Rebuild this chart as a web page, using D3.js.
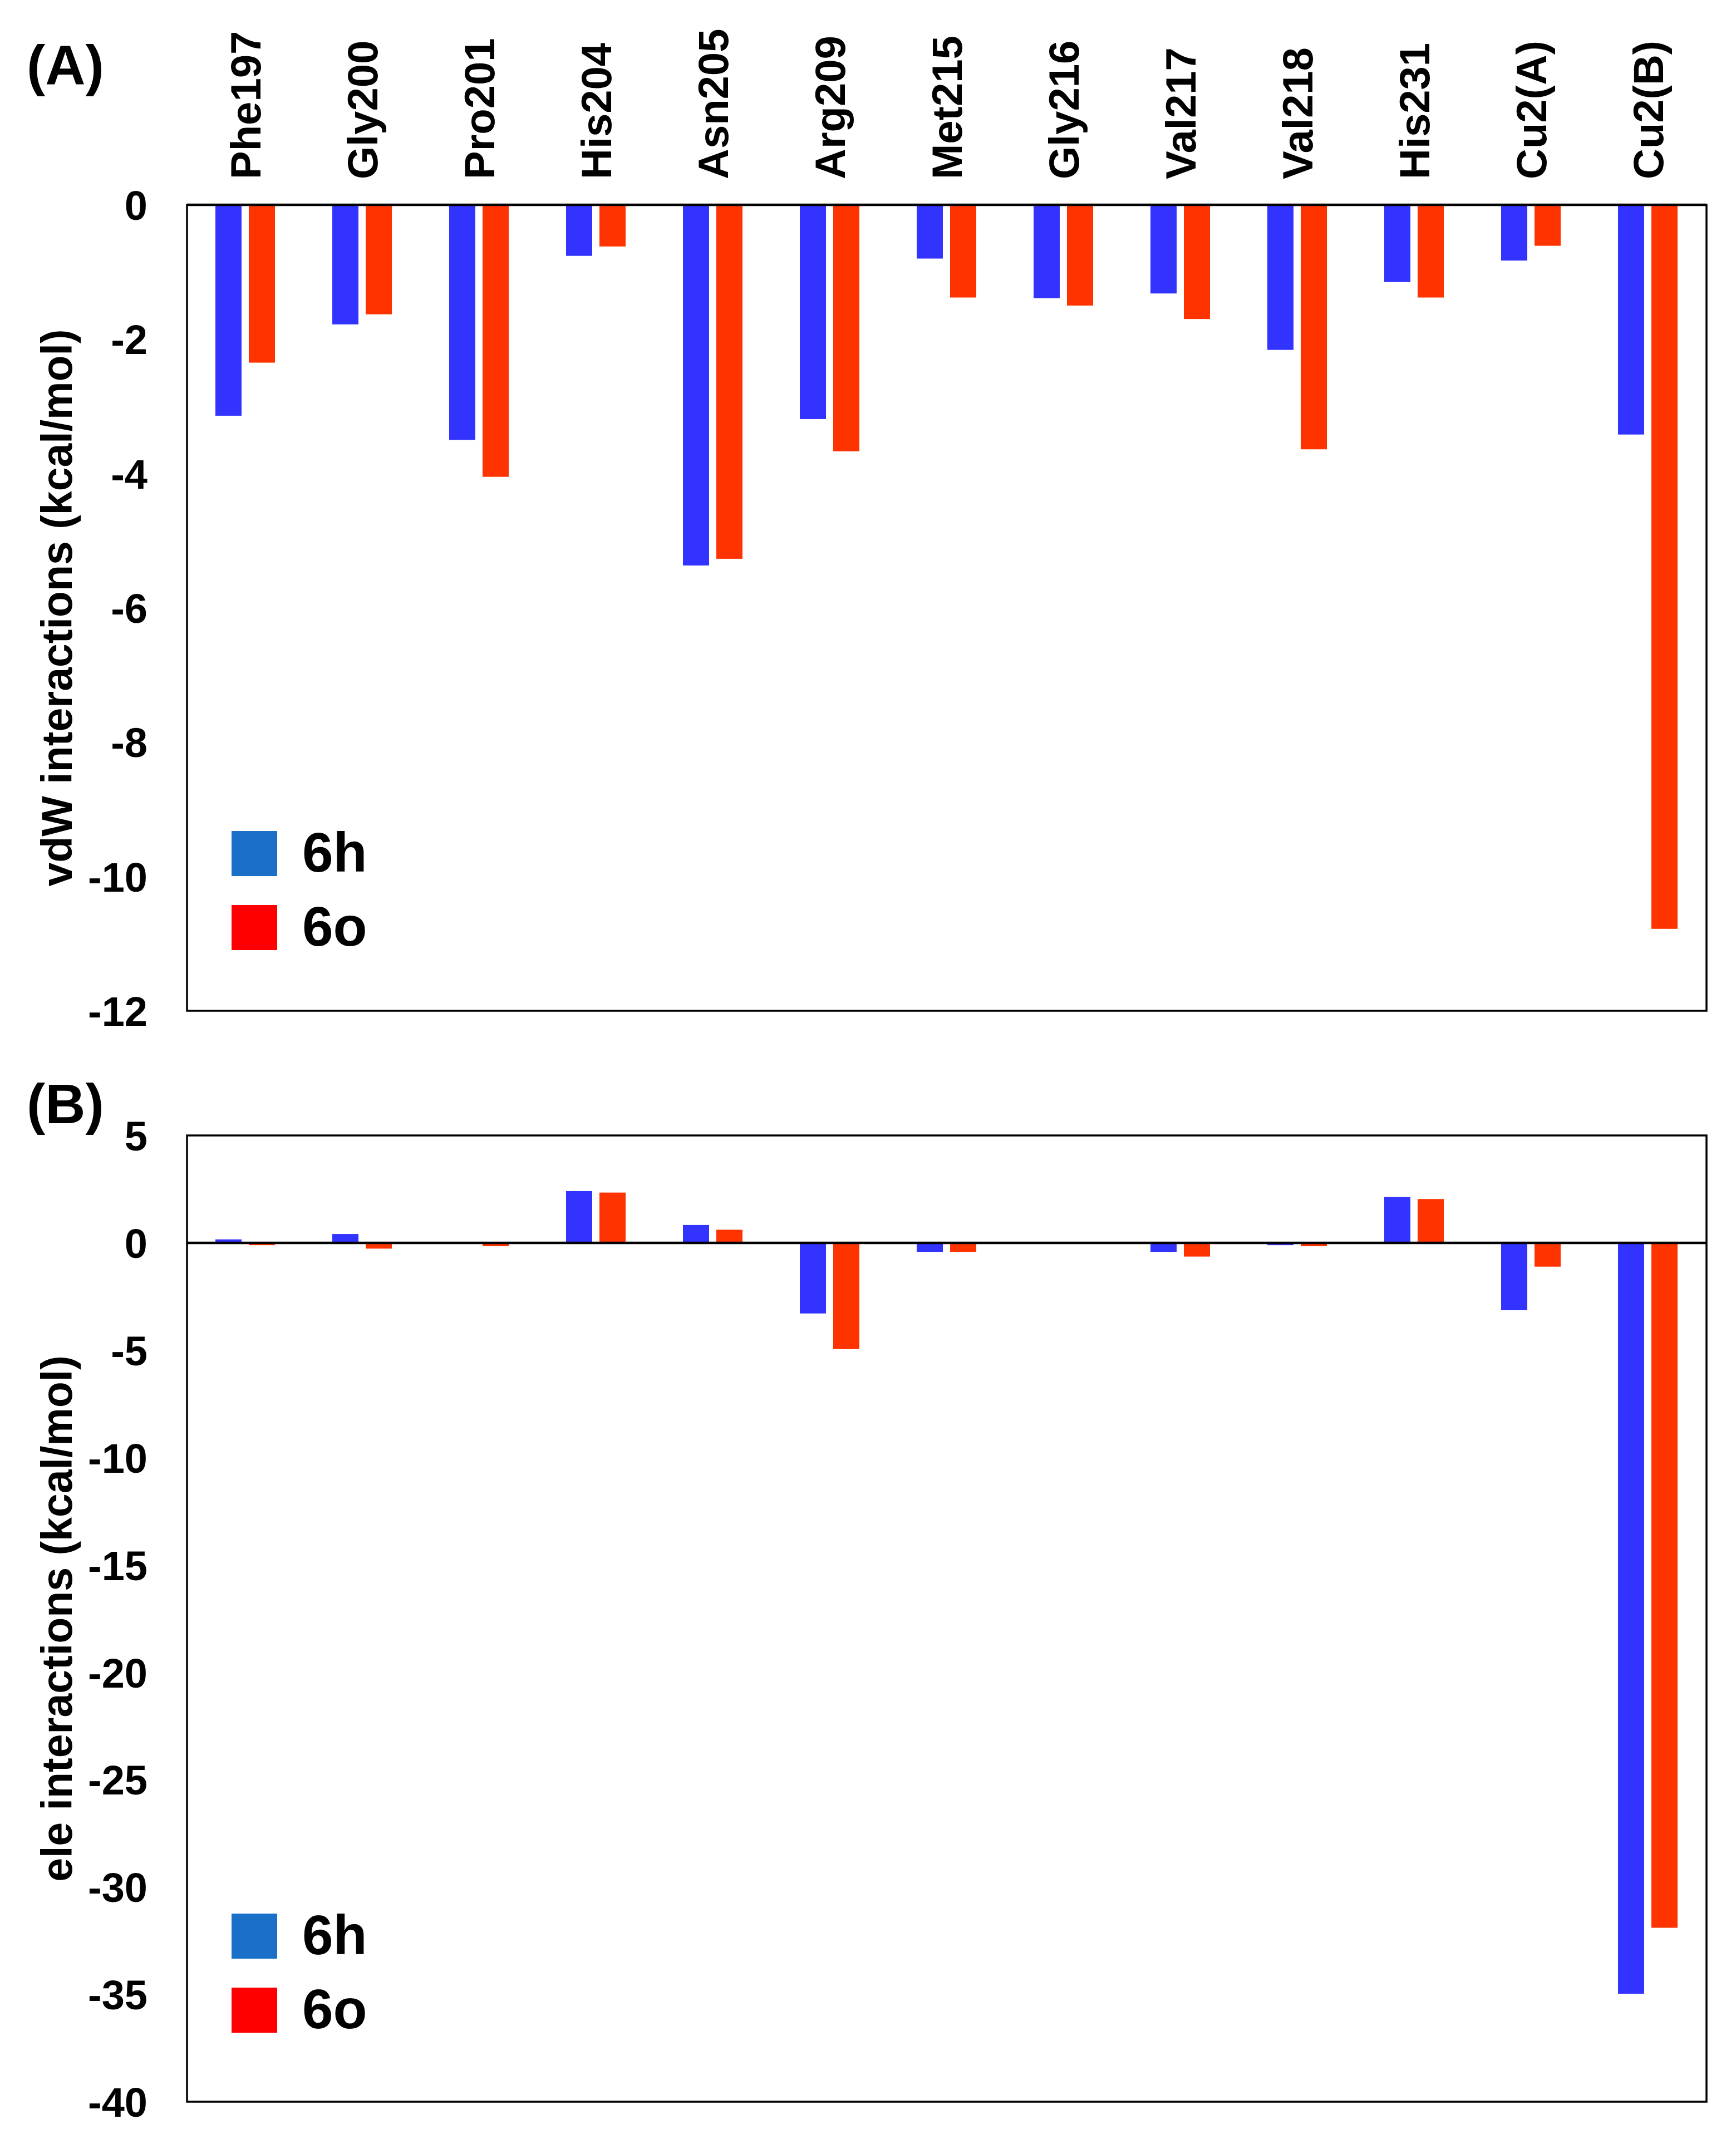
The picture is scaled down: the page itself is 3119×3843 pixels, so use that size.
<!DOCTYPE html>
<html>
<head>
<meta charset="utf-8">
<script src="https://cdn.jsdelivr.net/npm/d3@7"></script>
<style>
  html, body { margin: 0; padding: 0; background: #ffffff; }
  text { font-family: "Liberation Sans", Arial, sans-serif; font-weight: bold; fill: #000; }
</style>
</head>
<body>
<script>
// ---------------- data ----------------
const categories = ["Phe197","Gly200","Pro201","His204","Asn205","Arg209","Met215","Gly216","Val217","Val218","His231","Cu2(A)","Cu2(B)"];
const seriesNames = ["6h","6o"];
const vdw6h = [-3.14,-1.78,-3.50,-0.76,-5.37,-3.19,-0.80,-1.39,-1.32,-2.16,-1.15,-0.83,-3.42];
const vdw6o = [-2.35,-1.63,-4.05,-0.62,-5.27,-3.67,-1.38,-1.50,-1.70,-3.64,-1.38,-0.61,-10.78];
const ele6h = [0.16,0.41,0.00,2.41,0.83,-3.29,-0.42,0.00,-0.42,-0.11,2.13,-3.14,-34.97];
const ele6o = [-0.11,-0.27,-0.16,2.34,0.61,-4.95,-0.42,0.00,-0.64,-0.16,2.04,-1.11,-31.9];
const vdwTicks = [0,-2,-4,-6,-8,-10,-12];
const eleTicks = [5,0,-5,-10,-15,-20,-25,-30,-35,-40];
const panelLabels = ["(A)","(B)"];
const axisTitles = ["vdW interactions (kcal/mol)","ele interactions (kcal/mol)"];

// ---------------- styles ----------------
const barColors = {"6h":"#3333ff","6o":"#ff3300"};
const legendColors = {"6h":"#1a6fc8","6o":"#ff0000"};

const W = 3119, H = 3843;
const svg = d3.select("body").append("svg").attr("width", W).attr("height", H)
  .style("display","block").style("background","#fff");

const plotLeft = 336, plotRight = 3066;
const x0 = d3.scaleBand().domain(categories).range([plotLeft, plotRight]).padding(0);
const x1 = d3.scaleBand().domain(seriesNames).range([51, 158]).paddingInner(13/60).paddingOuter(0);

function panel(cfg) {
  const y = d3.scaleLinear().domain(cfg.domain).range([cfg.bottom, cfg.top]);
  const g = svg.append("g");
  const rows = categories.map((c, i) => ({cat: c, vals: [
    {s: "6h", v: cfg.a[i]}, {s: "6o", v: cfg.b[i]}]}));

  // bars
  const grp = g.selectAll("g.cat").data(rows).join("g")
    .attr("transform", d => `translate(${x0(d.cat)},0)`);
  grp.selectAll("rect").data(d => d.vals).join("rect")
    .attr("x", d => x1(d.s))
    .attr("width", x1.bandwidth())
    .attr("y", d => Math.min(y(d.v), y(0)))
    .attr("height", d => Math.abs(y(d.v) - y(0)))
    .attr("fill", d => barColors[d.s]);

  // frame
  g.append("rect").attr("x", plotLeft).attr("y", cfg.top)
    .attr("width", plotRight - plotLeft).attr("height", cfg.bottom - cfg.top)
    .attr("fill", "none").attr("stroke", "#000").attr("stroke-width", 3.5);
  // zero line
  g.append("line").attr("x1", plotLeft).attr("x2", plotRight)
    .attr("y1", y(0)).attr("y2", y(0)).attr("stroke", "#000").attr("stroke-width", 4.5);

  // y axis tick labels (no tick marks)
  const ax = d3.axisLeft(y).tickValues(cfg.ticks).tickSize(0).tickPadding(0)
    .tickFormat(d3.format("d"));
  const axg = g.append("g").attr("transform", `translate(265,0)`).call(ax);
  axg.select(".domain").remove();
  axg.selectAll("text").attr("font-size", 74).attr("font-family", "Liberation Sans, Arial, sans-serif")
    .attr("font-weight", "bold").attr("fill", "#000").attr("dy", "0.36em")
    .text(d => d < 0 ? "-" + Math.abs(d) : d);

  // axis title
  g.append("text").attr("transform", `translate(129,${(cfg.top + cfg.bottom) / 2}) rotate(-90)`)
    .attr("text-anchor", "middle").attr("font-size", 77).text(cfg.title);

  // panel label
  g.append("text").attr("x", 48).attr("y", cfg.labelY).attr("font-size", 100).text(cfg.label);

  // legend
  const lg = g.append("g").attr("transform", `translate(416,${cfg.legendY})`);
  seriesNames.forEach((s, i) => {
    lg.append("rect").attr("x", 0).attr("y", i * 133).attr("width", 82).attr("height", 81)
      .attr("fill", legendColors[s]);
    lg.append("text").attr("x", 127).attr("y", i * 133 + 73).attr("font-size", 100).text(s);
  });
  return y;
}

panel({domain: [-12, 0], top: 368, bottom: 1816, a: vdw6h, b: vdw6o, ticks: vdwTicks,
  title: axisTitles[0], label: panelLabels[0], labelY: 152, legendY: 1493});
panel({domain: [-40, 5], top: 2040, bottom: 3776, a: ele6h, b: ele6o, ticks: eleTicks,
  title: axisTitles[1], label: panelLabels[1], labelY: 2018, legendY: 3438});

// category labels (top of panel A)
svg.append("g").selectAll("text").data(categories).join("text")
  .attr("transform", d => `translate(${x0(d) + x0.bandwidth() / 2},322) rotate(-90)`)
  .attr("dy", "0.36em").attr("text-anchor", "start").attr("font-size", 76).text(d => d);
</script>
</body>
</html>
